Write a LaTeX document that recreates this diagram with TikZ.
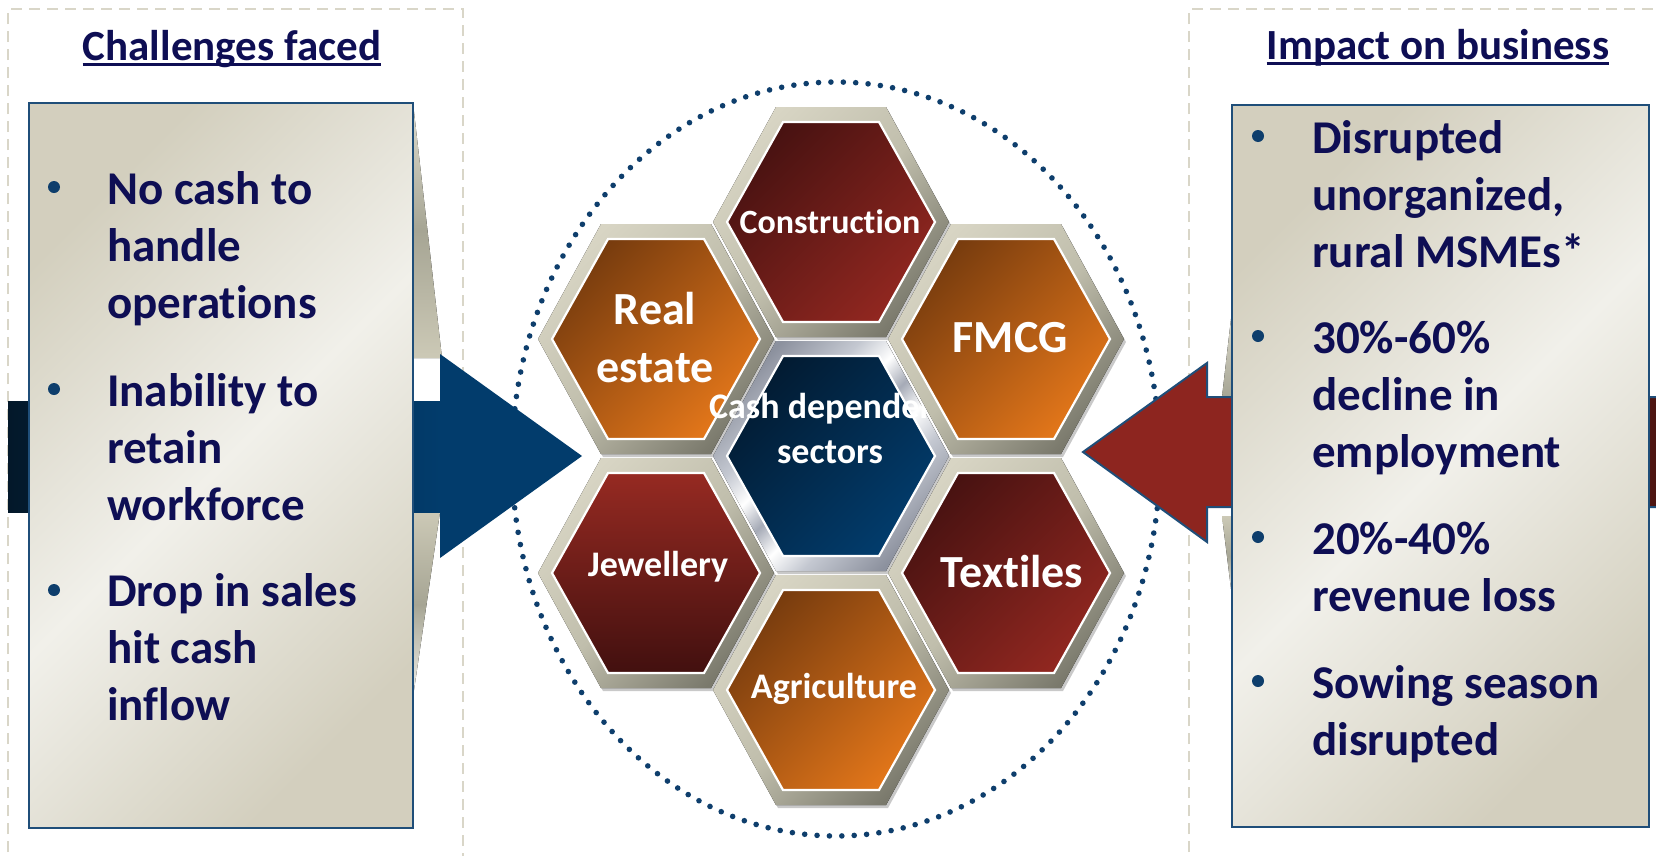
\documentclass[tikz,border=0pt]{standalone}
\usepackage{fontspec}
\setmainfont{Carlito}[Ligatures=NoCommon]
\usetikzlibrary{calc}

% palette
\definecolor{txtnavy}{RGB}{14,14,84}
\definecolor{dotnavy}{RGB}{14,62,108}
\definecolor{boxline}{RGB}{31,78,121}
\definecolor{panelline}{RGB}{217,214,200}
\definecolor{arrowblue}{RGB}{2,60,108}
\definecolor{arrowdark}{RGB}{3,24,42}
\definecolor{arrowred}{RGB}{141,37,31}
\definecolor{arrowreddark}{RGB}{74,20,16}
\definecolor{boxA}{RGB}{211,207,190}
\definecolor{boxB}{RGB}{241,240,234}
\definecolor{frmA}{RGB}{216,213,196}
\definecolor{frmB}{RGB}{192,190,172}
\definecolor{frmC}{RGB}{122,121,108}
\definecolor{silA}{RGB}{140,145,158}
\definecolor{silB}{RGB}{196,200,209}
\definecolor{silC}{RGB}{165,170,182}
\definecolor{redA}{RGB}{72,18,17}
\definecolor{redB}{RGB}{145,39,32}
\definecolor{orgA}{RGB}{120,60,14}
\definecolor{orgB}{RGB}{226,118,26}
\definecolor{navA}{RGB}{2,27,50}
\definecolor{navB}{RGB}{2,60,108}
\definecolor{jewA}{RGB}{150,42,34}
\definecolor{jewB}{RGB}{66,16,15}
\definecolor{slvA}{RGB}{222,220,206}
\definecolor{slvB}{RGB}{166,165,148}
\definecolor{slvC}{RGB}{204,201,182}

% metallic rim of the central cell
\pgfdeclarehorizontalshading{silverrim}{100bp}{%
  color(0bp)=(silA); color(25bp)=(silA); color(37bp)=(silB); color(44bp)=(white);
  color(50bp)=(silC); color(56bp)=(white); color(63bp)=(silB); color(75bp)=(silA);
  color(100bp)=(silA)}
% arrow body that darkens towards its tail
\pgfdeclarehorizontalshading{redarrow}{100bp}{%
  color(0bp)=(arrowred); color(62bp)=(arrowred); color(75bp)=(arrowreddark);
  color(100bp)=(arrowreddark)}

% flat-topped hexagon: centre x, centre y, half width, half height, half top edge
\newcommand{\hexpoly}[5]{({#1-#5},{#2-#4}) -- ({#1+#5},{#2-#4}) -- ({#1+#3},{#2})
  -- ({#1+#5},{#2+#4}) -- ({#1-#5},{#2+#4}) -- ({#1-#3},{#2}) -- cycle}

% one honeycomb cell: centre x, centre y, rim style, face style
\newcommand{\hexcell}[4]{%
  \fill[hexshadow] \hexpoly{#1+2}{#2+3}{118}{115}{55};
  \fill[#3] \hexpoly{#1}{#2}{118}{115}{55};
  \draw[white, line width=2.2pt, #4] \hexpoly{#1}{#2}{104}{100}{48};
}

\begin{document}
\begin{tikzpicture}[x=1pt, y=-1pt,
  panel/.style={draw=panelline, line width=1.6pt, dash pattern=on 11pt off 7pt},
  dotring/.style={draw=dotnavy, line width=5.6pt, line cap=round, dash pattern=on 0pt off 12.4pt},
  boxfill/.style={draw=boxline, line width=2pt, top color=boxA, bottom color=boxA,
    middle color=boxB, shading angle=45},
  hexshadow/.style={fill=black!60, opacity=0.35},
  rimbeige/.style={top color=frmA, bottom color=frmC, middle color=frmB, shading angle=45},
  rimsilver/.style={shading=silverrim, shading angle=-45},
  facered/.style={top color=redA, bottom color=redB, shading angle=45},
  faceorange/.style={top color=orgA, bottom color=orgB, shading angle=45},
  facenavy/.style={top color=navA, bottom color=navB, shading angle=45},
  facejewel/.style={top color=jewA, bottom color=jewB},
  title/.style={anchor=base, inner sep=0pt, text=txtnavy,
    font=\bfseries\fontsize{43}{50}\selectfont},
  % multi-line nodes: the base anchor sits on the last line
  bullettext/.style={anchor=base west, align=left, inner sep=0pt, text=txtnavy,
    font=\bfseries\fontsize{47}{57}\selectfont},
  bdot/.style={circle, fill=dotnavy, minimum size=12pt, inner sep=0pt},
  hexbig/.style={anchor=base, inner sep=0pt, text=white, align=center,
    font=\bfseries\fontsize{46}{58}\selectfont},
  hexsmall/.style={anchor=base, inner sep=0pt, text=white, align=center,
    font=\bfseries\fontsize{36}{45}\selectfont},
  uline/.style={draw=txtnavy, line width=2.3pt}
]
\useasboundingbox (0,0) rectangle (1656,855);
\fill[white] (0,0) rectangle (1656,855);

% dashed side panels
\draw[panel] (8,870) -- (8,9) -- (463,9) -- (463,870);
\draw[panel] (1189,870) -- (1189,9) -- (1670,9);

% dotted ring round the honeycomb
\draw[dotring] (836,459) ellipse [x radius=324, y radius=377];

% folds behind the text boxes
\fill[top color=slvA, bottom color=slvC, middle color=slvB] (413,103) -- (442,358) -- (413,358) -- cycle;
\fill[top color=slvC, bottom color=boxB, middle color=slvB] (413,512) -- (440,512) -- (413,697) -- cycle;
\fill[top color=slvA, bottom color=slvB] (1232,310) -- (1232,397) -- (1222,397) -- cycle;
\fill[top color=slvC, bottom color=boxB, middle color=slvB] (1222,516) -- (1232,516) -- (1232,597) -- cycle;

% inward arrows
\fill[left color=arrowdark, right color=arrowblue] (8,401) rectangle (441,512);
\fill[arrowblue] (440,354) -- (582,456) -- (440,558) -- cycle;
\draw[boxline, line width=2pt, shading=redarrow]
  (1660,397) -- (1207,397) -- (1207,363) -- (1083,452) -- (1207,542) -- (1207,507) -- (1660,507);

% text boxes
\path[boxfill] (29,103) rectangle (413,828);
\path[boxfill] (1232,105) rectangle (1649,827);

% headings
\node[title] (ttlL) at (232,60) {Challenges faced};
\draw[uline] ($(ttlL.base west)+(0,4.5)$) -- ($(ttlL.base east)+(0,4.5)$);
\node[title] (ttlR) at (1438,59) {Impact on business};
\draw[uline] ($(ttlR.base west)+(0,4.5)$) -- ($(ttlR.base east)+(0,4.5)$);

% challenges
\node[bdot] (dl1) at (54,187) {};
\node[bullettext] (bl1) at (107,318) {No cash to\\handle\\operations};
\node[bdot] (dl2) at (54,389) {};
\node[bullettext] (bl2) at (107,520) {Inability to\\retain\\workforce};
\node[bdot] (dl3) at (54,590) {};
\node[bullettext] (bl3) at (107,720) {Drop in sales\\hit cash\\inflow};

% impact
\node[bdot] (dr1) at (1258,136) {};
\node[bullettext] (br1) at (1312,267) {Disrupted\\unorganized,\\rural MSMEs*};
\node[bdot] (dr2) at (1258,336) {};
\node[bullettext] (br2) at (1312,467) {30\%-60\%\\decline in\\employment};
\node[bdot] (dr3) at (1258,537) {};
\node[bullettext] (br3) at (1312,611) {20\%-40\%\\revenue loss};
\node[bdot] (dr4) at (1258,681) {};
\node[bullettext] (br4) at (1312,755) {Sowing season\\disrupted};

% honeycomb
\hexcell{831}{222}{rimbeige}{facered}
\node[hexsmall, font=\bfseries\fontsize{34}{45}\selectfont] (construction) at (830,233) {Construction};
\hexcell{656}{339}{rimbeige}{faceorange}
\node[hexbig] (realestate) at (655,382) {Real\\estate};
\hexcell{656}{573}{rimbeige}{facejewel}
\node[hexsmall] (jewellery) at (658,576) {Jewellery};
\hexcell{831}{456}{rimsilver}{facenavy}
\node[hexsmall] (cash) at (830,463) {Cash dependent\\sectors};
\hexcell{1006}{339}{rimbeige}{faceorange}
\node[hexbig] (fmcg) at (1010,352) {FMCG};
\hexcell{1006}{573}{rimbeige}{facered}
\node[hexbig] (textiles) at (1012,587) {Textiles};
\hexcell{831}{690}{rimbeige}{faceorange}
\node[hexsmall] (agriculture) at (834,698) {Agriculture};
\end{tikzpicture}
\end{document}
